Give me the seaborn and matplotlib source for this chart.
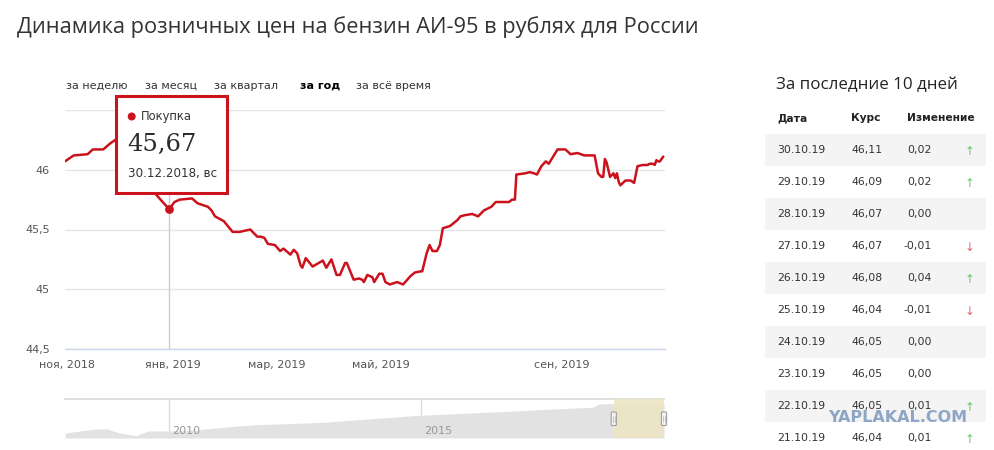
import numpy as np
import pandas as pd
import matplotlib
matplotlib.use("Agg")
import matplotlib.pyplot as plt
import matplotlib.dates as mdates
from matplotlib.patches import Rectangle, FancyBboxPatch, Circle
import seaborn as sns

# ---------------- data ----------------
title = "Динамика розничных цен на бензин АИ-95 в рублях для России"
tabs = ["за неделю", "за месяц", "за квартал", "за год", "за всё время"]
active_tab = "за год"

dates = [
    "2018-10-31", "2018-11-05", "2018-11-13", "2018-11-16", "2018-11-22", "2018-11-26",
    "2018-11-29", "2018-12-04", "2018-12-09", "2018-12-14", "2018-12-18", "2018-12-22",
    "2018-12-25", "2018-12-30", "2019-01-02", "2019-01-05", "2019-01-12", "2019-01-15",
    "2019-01-21", "2019-01-23", "2019-01-25", "2019-01-30", "2019-02-04", "2019-02-08",
    "2019-02-14", "2019-02-18", "2019-02-20", "2019-02-22", "2019-02-24", "2019-02-28",
    "2019-03-03", "2019-03-05", "2019-03-09", "2019-03-11", "2019-03-13", "2019-03-15",
    "2019-03-16", "2019-03-18", "2019-03-22", "2019-03-28", "2019-03-30", "2019-04-02",
    "2019-04-05", "2019-04-07", "2019-04-10", "2019-04-11", "2019-04-15", "2019-04-18",
    "2019-04-20", "2019-04-21", "2019-04-23", "2019-04-26", "2019-04-27", "2019-04-30",
    "2019-05-02", "2019-05-04", "2019-05-07", "2019-05-12", "2019-05-16", "2019-05-21",
    "2019-05-24", "2019-05-28", "2019-05-29", "2019-06-01", "2019-06-03", "2019-06-05",
    "2019-06-08", "2019-06-10", "2019-06-12", "2019-06-17", "2019-06-19", "2019-06-22",
    "2019-06-24", "2019-06-27", "2019-07-02", "2019-07-06", "2019-07-10", "2019-07-15",
    "2019-07-18", "2019-07-27", "2019-07-29", "2019-07-31", "2019-08-01", "2019-08-07",
    "2019-08-10", "2019-08-13", "2019-08-15", "2019-08-18", "2019-08-21", "2019-08-23",
    "2019-08-29", "2019-09-03", "2019-09-06", "2019-09-10", "2019-09-14", "2019-09-20",
    "2019-09-22", "2019-09-24", "2019-09-25", "2019-09-26", "2019-09-27", "2019-09-29",
    "2019-10-01", "2019-10-02", "2019-10-03", "2019-10-04", "2019-10-05", "2019-10-08",
    "2019-10-11", "2019-10-13", "2019-10-15", "2019-10-18", "2019-10-21", "2019-10-22",
    "2019-10-23", "2019-10-24", "2019-10-25", "2019-10-26", "2019-10-27", "2019-10-28",
    "2019-10-29", "2019-10-30",
]
prices = [
    46.07, 46.12, 46.13, 46.17, 46.17, 46.22,
    46.25, 46.27, 46.24, 46.12, 45.95, 45.80,
    45.75, 45.67, 45.73, 45.75, 45.76, 45.72,
    45.69, 45.66, 45.61, 45.57, 45.48, 45.48,
    45.50, 45.44, 45.44, 45.43, 45.38, 45.37,
    45.32, 45.34, 45.29, 45.33, 45.30, 45.20,
    45.18, 45.26, 45.19, 45.24, 45.18, 45.25,
    45.12, 45.12, 45.22, 45.22, 45.08, 45.09,
    45.08, 45.06, 45.12, 45.10, 45.06, 45.13,
    45.13, 45.06, 45.04, 45.06, 45.04, 45.11,
    45.14, 45.15, 45.15, 45.30, 45.37, 45.32,
    45.32, 45.37, 45.51, 45.53, 45.55, 45.58,
    45.61, 45.62, 45.63, 45.61, 45.66, 45.69,
    45.73, 45.73, 45.75, 45.75, 45.96, 45.97,
    45.98, 45.97, 45.96, 46.03, 46.07, 46.05,
    46.17, 46.17, 46.13, 46.14, 46.12, 46.12,
    45.97, 45.94, 45.94, 46.09, 46.06, 45.94,
    45.97, 45.93, 45.97, 45.90, 45.87, 45.91,
    45.91, 45.89, 46.03, 46.04, 46.04, 46.05,
    46.05, 46.05, 46.04, 46.08, 46.07, 46.07,
    46.09, 46.11,
]

x_tick_dates = ["2018-11-01", "2019-01-01", "2019-03-01", "2019-05-01", "2019-09-01"]
x_tick_labels = ["ноя, 2018", "янв, 2019", "мар, 2019", "май, 2019", "сен, 2019"]
y_ticks = [44.5, 45.0, 45.5, 46.0, 46.5]
y_tick_labels = ["44,5", "45", "45,5", "46", ""]

tooltip_date = "2018-12-30"
tooltip_series = "Покупка"
weekdays_ru = ["пн", "вт", "ср", "чт", "пт", "сб", "вс"]

nav_dates = ["2007-12-10", "2008-07-15", "2008-10-10", "2009-01-01", "2009-05-05",
             "2009-08-08", "2009-12-15", "2010-07-15", "2011-03-15", "2011-10-01",
             "2012-07-15", "2013-02-01", "2013-11-20", "2014-11-05", "2015-07-15",
             "2016-07-15", "2017-07-15", "2018-06-01", "2018-07-15", "2018-12-10",
             "2019-10-30"]
nav_values = [23.0, 26.1, 26.1, 23.3, 21.0,
              24.6, 24.6, 25.3, 27.8, 29.4,
              30.4, 31.2, 33.5, 36.2, 37.5,
              39.2, 41.1, 42.6, 45.1, 45.6,
              46.1]
nav_year_dates = ["2010-01-01", "2015-01-01"]
nav_year_labels = ["2010", "2015"]

table_title = "За последние 10 дней"
table_headers = ["Дата", "Курс", "Изменение"]
table_dates = ["30.10.19", "29.10.19", "28.10.19", "27.10.19", "26.10.19",
               "25.10.19", "24.10.19", "23.10.19", "22.10.19", "21.10.19"]
table_rates = [46.11, 46.09, 46.07, 46.07, 46.08, 46.04, 46.05, 46.05, 46.05, 46.04]
table_changes = [0.02, 0.02, 0.00, -0.01, 0.04, -0.01, 0.00, 0.00, 0.01, 0.01]

watermark = "YAPLAKAL.COM"

# ---------------- style ----------------
sns.set_theme(style="white")
plt.rcParams["font.family"] = ["DejaVu Sans"]

RED = "#cc121c"
W, H = 995, 450
fig = plt.figure(figsize=(W / 100, H / 100), dpi=100)
fig.patch.set_facecolor("white")


def fig_rect(x0, y0, x1, y1):
    return [x0 / W, 1 - y1 / H, (x1 - x0) / W, (y1 - y0) / H]


df = pd.DataFrame({"date": pd.to_datetime(dates), "price": prices})

# ---- main chart ----
ax = fig.add_axes(fig_rect(65, 110, 665, 349))
sns.lineplot(data=df, x="date", y="price", ax=ax, color=RED, linewidth=1.8,
             estimator=None, zorder=3)

# compressed time axis (as in the original chart)
anchor_dates = ["2018-10-31", "2019-01-01", "2019-03-01", "2019-05-01", "2019-09-01", "2019-10-31"]
anchor_frac = [0.0, 0.1795, 0.3528, 0.5267, 0.8283, 1.0]
xa = mdates.date2num(pd.to_datetime(anchor_dates).to_pydatetime())
fa = np.array(anchor_frac)
s0 = (fa[1] - fa[0]) / (xa[1] - xa[0])
s1 = (fa[-1] - fa[-2]) / (xa[-1] - xa[-2])
xa_ext = np.concatenate([[xa[0] - 1e5], xa, [xa[-1] + 1e5]])
fa_ext = np.concatenate([[fa[0] - 1e5 * s0], fa, [fa[-1] + 1e5 * s1]])


def fwd(v):
    return np.interp(v, xa_ext, fa_ext)


def inv(v):
    return np.interp(v, fa_ext, xa_ext)


ax.set_xscale("function", functions=(fwd, inv))
ax.set_xlim(pd.Timestamp(anchor_dates[0]), pd.Timestamp(anchor_dates[-1]))
ax.set_ylim(y_ticks[0], y_ticks[-1])
ax.set_xticks(pd.to_datetime(x_tick_dates))
ax.set_xticklabels(x_tick_labels)
ax.set_yticks(y_ticks)
ax.set_yticklabels(y_tick_labels)
ax.set_xlabel("")
ax.set_ylabel("")
ax.grid(axis="y", color="#e6e6e6", linewidth=1)
ax.grid(axis="x", visible=False)
ax.set_axisbelow(True)
for s in ["top", "right", "left"]:
    ax.spines[s].set_visible(False)
ax.spines["bottom"].set_color("#ccd6eb")
ax.spines["bottom"].set_linewidth(1)
ax.tick_params(axis="x", direction="out", length=6.5, width=1, color="#ccd6eb",
               labelsize=8, labelcolor="#555555", pad=1.5)
ax.tick_params(axis="y", length=0, labelsize=8, labelcolor="#555555", pad=11)
ax.patch.set_alpha(0)

# tooltip point
tt = pd.Timestamp(tooltip_date)
tt_val = df.loc[df["date"] == tt, "price"].iloc[0]
ax.axvline(tt, ymin=0, ymax=(349 - 193) / (349 - 110), color="#cccccc", lw=1, zorder=2)
ax.scatter([tt], [tt_val], s=40, color=RED, zorder=5, linewidths=0)

# ---- navigator ----
axn = fig.add_axes(fig_rect(65, 399, 664, 438))
nd = pd.to_datetime(nav_dates)
nav_bottom, nav_top = 19.25, 48.9
axn.fill_between(nd, nav_values, nav_bottom, color="#e2e2e2", lw=0, zorder=1)
for yd in nav_year_dates:
    axn.axvline(pd.Timestamp(yd), color="#dddddd", lw=1, zorder=0.5)
for yd, yl in zip(nav_year_dates, nav_year_labels):
    axn.text(pd.Timestamp(yd) + pd.Timedelta(days=22), 0.17, yl,
             transform=axn.get_xaxis_transform(), ha="left", va="center",
             fontsize=8, color="#999999", zorder=2)
sel0, sel1 = df["date"].iloc[0], df["date"].iloc[-1]
axn.axvspan(sel0, sel1, color="#eee5c4", alpha=0.88, lw=0, zorder=3)
axn.set_xlim(nd[0], nd[-1])
axn.set_ylim(nav_bottom, nav_top)
axn.set_xticks([])
axn.set_yticks([])
for s in ["bottom", "right", "left"]:
    axn.spines[s].set_visible(False)
axn.spines["top"].set_color("#dcdcdc")
axn.patch.set_alpha(0)

# ---- overlay for texts, tooltip box and table ----
ov = fig.add_axes([0, 0, 1, 1], zorder=10)
ov.set_xlim(0, W)
ov.set_ylim(H, 0)
ov.axis("off")
ov.patch.set_alpha(0)

ov.text(17, 27, title, fontsize=15.7, color="#333333", ha="left", va="center",
        family=["Open Sans", "DejaVu Sans"])

tab_x = [66, 145, 214, 300.5, 356]
for tx, tl in zip(tab_x, tabs):
    bold = tl == active_tab
    ov.text(tx, 86, tl, fontsize=8.0, ha="left", va="center",
            color="#000000" if bold else "#333333",
            fontweight="bold" if bold else "normal")

# tooltip box
ov.add_patch(Rectangle((116, 96), 111, 97, facecolor="white", edgecolor=RED, lw=2.2, zorder=1))
ov.add_patch(Circle((131.7, 116.5), 3.3, color=RED, zorder=2))
ov.text(140.5, 116.5, tooltip_series, fontsize=8.3, color="#333333", ha="left", va="center", zorder=2)
ov.text(127.5, 144, f"{tt_val:.2f}".replace(".", ","), fontsize=17.5, color="#2a2a2a",
        ha="left", va="center", family=["DejaVu Serif"], zorder=2)
ov.text(127.5, 173, f"{tt.strftime('%d.%m.%Y')}, {weekdays_ru[tt.weekday()]}",
        fontsize=8.6, color="#333333", ha="left", va="center", zorder=2)

# navigator handles
fig.canvas.draw()
for sd in (sel0, sel1):
    xd = axn.transData.transform((mdates.date2num(sd), nav_bottom))[0]
    ov.add_patch(FancyBboxPatch((xd - 2.6, 412), 5.2, 13.5,
                                boxstyle="round,pad=0,rounding_size=1",
                                facecolor="#f2f2f2", edgecolor="#a0a0a0", lw=0.8, zorder=3))
    ov.plot([xd - 0.8, xd - 0.8], [415.5, 422], color="#b0b0b0", lw=0.5, zorder=4)
    ov.plot([xd + 0.8, xd + 0.8], [415.5, 422], color="#b0b0b0", lw=0.5, zorder=4)

# table
ov.text(776, 85, table_title, fontsize=12.2, color="#222222", ha="left", va="center",
        family=["Open Sans", "DejaVu Sans"])
hdr_x = [777, 851.5, 907]
for hx, hl in zip(hdr_x, table_headers):
    ov.text(hx, 118, hl, fontsize=7.7, fontweight="bold", color="#222222",
            ha="left", va="center")
for i, (d, r, c) in enumerate(zip(table_dates, table_rates, table_changes)):
    yc = 150 + 32 * i
    if i % 2 == 0:
        ov.add_patch(Rectangle((765, yc - 16), 221, 32, facecolor="#f4f4f4", lw=0, zorder=0))
    ov.text(777, yc, d, fontsize=7.8, color="#333333", ha="left", va="center")
    ov.text(851.5, yc, f"{r:.2f}".replace(".", ","), fontsize=7.8, color="#333333",
            ha="left", va="center")
    ov.text(931.5, yc, f"{c:.2f}".replace(".", ","), fontsize=7.8, color="#333333",
            ha="right", va="center")
    if c > 0:
        ov.text(970, yc + 1.5, "↑", fontsize=8.5, color="#66cc66", ha="center", va="center")
    elif c < 0:
        ov.text(970, yc + 1.5, "↓", fontsize=8.5, color="#e06666", ha="center", va="center")

ov.text(898, 418, watermark, fontsize=11.5, fontweight="bold", color="#8ea6c5",
        ha="center", va="center", zorder=5)

fig.savefig("out.png", dpi=100)
